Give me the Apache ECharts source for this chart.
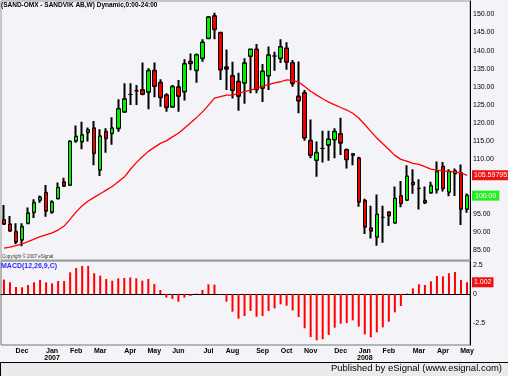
<!DOCTYPE html>
<html>
<head>
<meta charset="utf-8">
<script src="https://cdn.jsdelivr.net/npm/echarts@6/dist/echarts.min.js"></script>
<style>
  html, body { margin: 0; padding: 0; background: #f4f3f7; }
  #chart { width: 508px; height: 376px; }
</style>
</head>
<body>
<div id="chart"></div>
<script>
// weekly bars, Fri dates
const dates = [
  '2006-11-10','2006-11-17','2006-11-24','2006-12-01','2006-12-08','2006-12-15','2006-12-22','2006-12-29',
  '2007-01-05','2007-01-12','2007-01-19','2007-01-26','2007-02-02','2007-02-09','2007-02-16','2007-02-23',
  '2007-03-02','2007-03-09','2007-03-16','2007-03-23','2007-03-30','2007-04-06','2007-04-13','2007-04-20',
  '2007-04-27','2007-05-04','2007-05-11','2007-05-18','2007-05-25','2007-06-01','2007-06-08','2007-06-15',
  '2007-06-22','2007-06-29','2007-07-06','2007-07-13','2007-07-20','2007-07-27','2007-08-03','2007-08-10',
  '2007-08-17','2007-08-24','2007-08-31','2007-09-07','2007-09-14','2007-09-21','2007-09-28','2007-10-05',
  '2007-10-12','2007-10-19','2007-10-26','2007-11-02','2007-11-09','2007-11-16','2007-11-23','2007-11-30',
  '2007-12-07','2007-12-14','2007-12-21','2007-12-28','2008-01-04','2008-01-11','2008-01-18','2008-01-25',
  '2008-02-01','2008-02-08','2008-02-15','2008-02-22','2008-02-29','2008-03-07','2008-03-14','2008-03-21',
  '2008-03-28','2008-04-04','2008-04-11','2008-04-18','2008-04-25','2008-05-02'
];

const opens = [
  93.3, 92.1, 90.0, 87.8, 92.4, 95.4, 98.8, 100.8, 95.5, 99.2, 103.7, 102.9, 115.1,
  114.9, 117.5, 118.6, 107.1, 117.6, 117.2, 118.6, 123.1, 127.9, 128.9, 129.1, 128.6,
  134.4, 131.1, 127.7, 124.5, 129.9, 128.7, 136.9, 134.6, 137.9, 143.4, 149.5, 144.9,
  135.4, 133.0, 131.4, 131.1, 138.5, 140.3, 129.7, 133.1, 138.5, 137.9, 140.6, 136.6,
  127.3, 128.3, 115.1, 109.8, 113.0, 114.0, 115.5, 117.0, 112.6, 111.2, 110.3, 98.6,
  91.0, 88.6, 94.0, 95.4, 92.5, 99.9, 98.8, 103.6, 102.0, 98.6, 100.8, 101.7, 108.0,
  101.0, 106.1, 106.2, 96.3
];
const closes = [
  92.2, 90.3, 87.3, 91.4, 95.1, 98.0, 99.5, 95.8, 98.2, 102.2, 102.7, 114.9, 116.3,
  116.7, 118.1, 111.7, 116.4, 115.8, 118.6, 123.9, 126.6, 127.9, 128.9, 128.0, 134.4,
  130.2, 127.1, 124.4, 130.0, 127.5, 136.3, 136.5, 138.8, 142.2, 149.2, 145.9, 134.8,
  135.0, 129.1, 127.5, 136.5, 140.3, 129.3, 134.2, 138.7, 138.5, 141.0, 136.9, 131.0,
  126.2, 116.0, 111.2, 111.8, 113.0, 115.5, 117.6, 114.6, 110.0, 111.5, 98.3, 91.4,
  90.3, 94.8, 94.0, 94.5, 99.2, 97.9, 105.3, 103.1, 102.0, 98.1, 102.7, 106.6, 102.0,
  106.6, 106.8, 96.3, 100.0
];
const lows = [
  92.0, 90.2, 86.6, 86.0, 92.1, 93.8, 98.0, 94.2, 95.0, 98.9, 102.4, 102.7, 114.6,
  112.8, 114.9, 108.4, 105.4, 111.8, 114.0, 117.6, 122.9, 125.0, 125.0, 127.7, 123.8,
  127.1, 124.5, 123.1, 124.3, 123.1, 126.2, 134.6, 131.1, 136.9, 143.1, 143.1, 131.9,
  129.1, 126.8, 123.4, 125.3, 128.2, 128.2, 125.8, 129.1, 134.4, 136.6, 134.7, 130.0,
  122.7, 115.1, 110.3, 105.2, 109.1, 109.6, 110.3, 111.2, 107.5, 108.4, 96.9, 89.4,
  88.2, 86.2, 87.0, 91.6, 92.3, 96.8, 98.6, 100.5, 96.2, 97.7, 100.6, 100.6, 101.1,
  99.8, 99.9, 91.9, 95.3
];
const highs = [
  97.4, 94.4, 92.4, 92.4, 96.7, 99.0, 100.0, 102.9, 98.7, 103.6, 104.9, 115.3, 119.3,
  120.4, 118.8, 120.6, 118.3, 118.6, 121.6, 126.6, 131.0, 131.0, 130.5, 136.7, 135.1,
  136.7, 132.1, 128.2, 130.5, 131.9, 137.6, 139.2, 139.2, 143.1, 149.5, 150.4, 145.0,
  140.3, 136.9, 133.9, 137.9, 140.6, 141.8, 136.3, 141.1, 139.7, 143.1, 142.3, 137.4,
  137.0, 129.1, 121.0, 114.9, 117.9, 117.9, 118.6, 121.5, 113.0, 111.6, 110.7, 99.1,
  97.2, 100.3, 97.2, 95.6, 102.5, 104.0, 108.4, 107.3, 104.5, 102.5, 103.8, 109.4, 109.3,
  107.3, 107.5, 108.6, 100.6
];

// red moving average
const maValues = [
  85.5, 85.8, 86.2, 86.7, 87.3, 88.0, 88.7, 89.2, 89.7, 90.5, 91.6, 93.5, 95.5,
  97.2, 98.5, 99.5, 100.5, 101.5, 102.5, 103.8, 105.1, 107.2, 109.1, 110.7, 112.2,
  113.3, 114.4, 115.1, 116.2, 117.2, 118.6, 120.0, 121.5, 123.1, 124.9, 126.9, 127.3,
  127.7, 127.7, 128.2, 128.7, 129.1, 129.6, 130.1, 130.6, 131.1, 131.4, 131.9, 131.8,
  131.3, 130.1, 128.8, 127.7, 126.7, 125.8, 125.0, 124.3, 123.6, 122.7, 121.4, 119.6,
  117.7, 115.9, 114.3, 112.7, 111.1, 110.0, 109.5, 108.9, 108.6, 108.0, 107.3, 107.0,
  106.8, 106.7, 106.5, 106.3, 105.597951
];

const macdHist = [
  1.23, 1.0, 0.6, 0.57, 0.77, 1.0, 1.2, 1.0, 0.91, 1.11, 1.11, 1.85, 2.22,
  2.4, 2.4, 1.77, 1.57, 1.28, 1.14, 1.34, 1.37, 1.42, 1.34, 1.14, 1.28,
  0.85, 0.34, -0.31, -0.43, -0.66, -0.31, -0.17, 0.04, 0.34, 0.83, 0.8, -0.06,
  -0.66, -1.51, -2.11, -1.88, -1.45, -1.94, -1.88, -1.45, -1.23, -0.88, -1.0, -1.4,
  -1.97, -2.93, -3.68, -3.96, -3.87, -3.5, -2.88, -2.54, -2.48, -2.25, -2.79, -3.45,
  -3.7, -3.28, -2.85, -2.37, -1.57, -1.03, 0.03, 0.48, 0.83, 0.77, 1.08, 1.54,
  1.51, 1.77, 1.88, 1.2, 1.002
];

const monthTickIdx = [3, 8, 12, 16, 21, 25, 29, 34, 38, 43, 47, 51, 56, 60, 64, 69, 73, 77];
const monthTickText = ['Dec', 'Jan\n2007', 'Feb', 'Mar', 'Apr', 'May', 'Jun', 'Jul', 'Aug',
  'Sep', 'Oct', 'Nov', 'Dec', 'Jan\n2008', 'Feb', 'Mar', 'Apr', 'May'];
const priceTicks = [85, 90, 95, 100, 105, 110, 115, 120, 125, 130, 135, 140, 145, 150];
const macdTicks = [-2.5, 0, 2.5];

const UP = '#00ee00';
const DOWN = '#ee0000';
const last = dates.length - 1;

// wick layer: full range, thin black
const wickData = dates.map((d, i) => [opens[i], closes[i], lows[i], highs[i]]);
// body layer: no wick, coloured with black outline
const bodyData = dates.map((d, i) => [
  opens[i], closes[i], Math.min(opens[i], closes[i]), Math.max(opens[i], closes[i])
]);

const chart = echarts.init(document.getElementById('chart'));

const option = {
  backgroundColor: '#f4f3f7',
  animation: false,
  title: {
    text: '(SAND-OMX - SANDVIK AB,W) Dynamic,0:00-24:00',
    left: 1,
    top: 2,
    padding: 0,
    textStyle: { fontSize: 6.5, fontWeight: 'bold', color: '#000', fontFamily: 'Liberation Sans' }
  },
  grid: [
    { left: 1, right: 38, top: 1, height: 259, show: true, borderColor: '#999', borderWidth: 1, backgroundColor: '#f4f3f7' },
    { left: 1, right: 38, top: 261, height: 84, show: true, borderColor: '#777', borderWidth: 1, backgroundColor: '#f4f3f7' }
  ],
  xAxis: [
    {
      type: 'category', gridIndex: 0, data: dates, boundaryGap: true,
      axisLine: { show: false }, axisTick: { show: false }, axisLabel: { show: false }, splitLine: { show: false }
    },
    {
      type: 'category', gridIndex: 1, data: dates, boundaryGap: true,
      axisLine: { show: true, lineStyle: { color: '#000', width: 1 } },
      axisTick: { show: false },
      splitLine: { show: false },
      axisLabel: {
        interval: (idx) => monthTickIdx.indexOf(idx) >= 0,
        formatter: (v, idx) => {
          const k = monthTickIdx.indexOf(idx);
          return k >= 0 ? monthTickText[k] : '';
        },
        fontSize: 7,
        fontWeight: 'bold',
        lineHeight: 7.5,
        color: '#000',
        margin: 2,
        fontFamily: 'Liberation Sans'
      }
    }
  ],
  yAxis: [
    {
      type: 'value', gridIndex: 0, position: 'right', min: 82.24, max: 153.67,
      axisLine: { show: true, lineStyle: { color: '#000', width: 1 } },
      axisTick: { show: false },
      splitLine: { show: false },
      axisLabel: {
        customValues: priceTicks,
        formatter: (v) => v.toFixed(2),
        fontSize: 7, color: '#000', margin: 3, fontFamily: 'Liberation Sans'
      }
    },
    {
      type: 'value', gridIndex: 1, position: 'right', min: -4.36, max: 2.82,
      axisLine: { show: true, lineStyle: { color: '#000', width: 1 } },
      axisTick: { show: false },
      splitLine: { show: false },
      axisLabel: {
        customValues: macdTicks,
        formatter: (v) => String(v),
        fontSize: 7, color: '#000', margin: 3, fontFamily: 'Liberation Sans'
      }
    }
  ],
  series: [
    {
      name: 'wick', type: 'candlestick', xAxisIndex: 0, yAxisIndex: 0,
      data: wickData, barWidth: 2,
      itemStyle: {
        color: '#000', color0: '#000', borderColor: '#000', borderColor0: '#000',
        borderColorDoji: '#000', borderWidth: 2
      }
    },
    {
      name: 'body', type: 'candlestick', xAxisIndex: 0, yAxisIndex: 0,
      data: bodyData, barWidth: 4,
      itemStyle: {
        color: UP, color0: DOWN, borderColor: '#000', borderColor0: '#000',
        borderColorDoji: '#000', borderWidth: 1
      }
    },
    {
      name: 'MA', type: 'line', xAxisIndex: 0, yAxisIndex: 0,
      data: maValues, showSymbol: false, symbol: 'none', smooth: false, clip: false,
      lineStyle: { color: '#ff0000', width: 1.3 },
      markLine: {
        silent: true, symbol: 'none', animation: false,
        lineStyle: { width: 0, color: 'transparent' },
        label: {
          position: 'end', distance: 2, fontSize: 7, color: '#fff',
          fontFamily: 'Liberation Sans', padding: [2, 2, 1, 2]
        },
        data: [
          {
            yAxis: maValues[last],
            label: { formatter: () => maValues[last].toFixed(6), backgroundColor: '#ee1111' }
          },
          {
            yAxis: closes[last],
            label: { formatter: () => closes[last].toFixed(2), backgroundColor: '#22ee22', padding: [2, 3, 1, 3] }
          }
        ]
      }
    },
    {
      name: 'MACD', type: 'bar', xAxisIndex: 1, yAxisIndex: 1,
      data: macdHist, barWidth: 2, clip: false,
      itemStyle: { color: '#ff0000' },
      markLine: {
        silent: true, symbol: 'none', animation: false,
        lineStyle: { width: 0, color: 'transparent' },
        label: {
          position: 'end', distance: 2, fontSize: 7, color: '#fff',
          fontFamily: 'Liberation Sans', padding: [2, 2, 1, 2],
          backgroundColor: '#ee1111',
          formatter: () => macdHist[last].toFixed(3)
        },
        data: [{ yAxis: macdHist[last] }]
      }
    }
  ],
  graphic: [
    {
      type: 'text', left: 2, top: 254,
      style: { text: 'Copyright © 2007 eSignal.', fontSize: 4.5, fill: '#333', fontFamily: 'Liberation Sans' }
    },
    {
      type: 'text', left: 1, top: 263,
      style: { text: 'MACD(12,26,9,C)', fontSize: 7, fontWeight: 'bold', fill: '#2a2aff', fontFamily: 'Liberation Sans' }
    },
    {
      type: 'rect', left: 0, top: 362,
      shape: { width: 508, height: 14 },
      style: { fill: '#ebebeb', stroke: '#000', lineWidth: 1 }
    },
    {
      type: 'text', right: 6, top: 363,
      style: { text: 'Published by eSignal (www.esignal.com)', fontSize: 9.5, fill: '#000', fontFamily: 'Liberation Sans' }
    }
  ]
};

chart.setOption(option);
</script>
</body>
</html>
